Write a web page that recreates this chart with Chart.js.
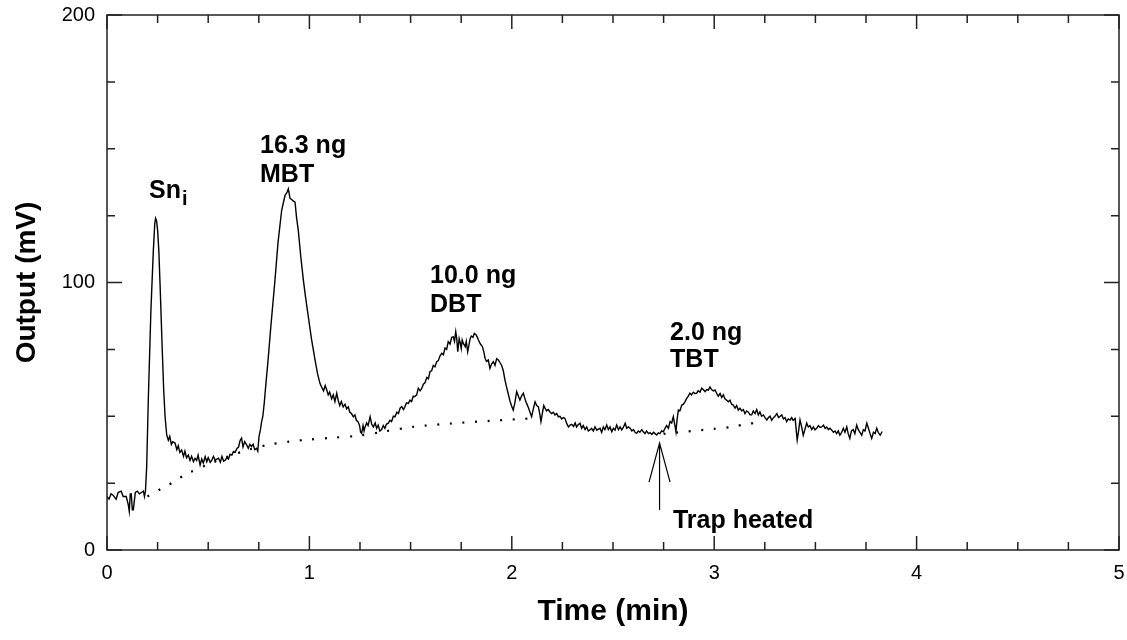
<!DOCTYPE html>
<html>
<head>
<meta charset="utf-8">
<script src="https://cdn.jsdelivr.net/npm/chart.js@4.4.1/dist/chart.umd.min.js"></script>
<style>
  html, body { margin: 0; padding: 0; background: #fff; }
  #wrap { width: 1127px; height: 640px; }
</style>
</head>
<body>
<div id="wrap"><canvas id="chrom" width="1127" height="640"></canvas></div>
<script>
// detector trace, [time (min), output (mV)]
const trace = [
  [0.00,20],[0.01,19],[0.02,21],[0.03,20.5],[0.045,19],[0.055,21.5],[0.07,22],[0.08,20],[0.095,20],[0.105,17],
  [0.11,14.5],[0.115,21],[0.12,21],[0.125,15],[0.13,15],[0.14,21.5],[0.15,22],[0.16,21],[0.17,21.5],[0.18,22],
  [0.185,20],[0.19,22],[0.196,31],[0.204,56],[0.217,89.7],[0.229,112],[0.236,122],[0.24,124],[0.245,123],[0.25,119.6],
  [0.256,112],[0.262,99.7],[0.273,74.8],[0.28,60],[0.287,49.8],[0.295,43],[0.303,41],[0.31,42.5],[0.318,39.5],[0.325,40.5],
  [0.336,40],[0.345,37.5],[0.352,39],[0.36,36.5],[0.369,37.4],[0.378,35],[0.385,37],[0.393,34.5],[0.402,35.5],[0.41,33.5],
  [0.418,35],[0.427,33],[0.435,34.3],[0.443,33.5],[0.45,35.5],[0.46,31.8],[0.468,34],[0.476,32.5],[0.485,34.9],[0.493,33],
  [0.50,34.5],[0.51,32.8],[0.518,33.6],[0.526,35],[0.535,33.5],[0.543,34],[0.551,34.3],[0.56,32.8],[0.568,35],[0.576,33.2],
  [0.584,33.6],[0.592,34.5],[0.60,34],[0.608,35.8],[0.617,35.5],[0.625,36.8],[0.633,36.5],[0.642,38],[0.65,38.5],[0.658,41],
  [0.665,41.8],[0.672,38.5],[0.68,40.5],[0.69,39.3],[0.698,38],[0.706,39.5],[0.714,38.7],[0.722,39.5],[0.73,37.5],[0.739,38],
  [0.745,37],[0.751,42.4],[0.758,45],[0.764,48],[0.77,50],[0.777,55],[0.785,62],[0.797,72],[0.81,84],[0.83,101],
  [0.845,115],[0.863,127],[0.872,130],[0.88,132.7],[0.888,133.5],[0.896,135],[0.904,131.5],[0.912,131],[0.92,130.5],[0.929,130],
  [0.937,124],[0.945,119.6],[0.957,110],[0.97,101],[0.982,94],[0.995,87],[1.01,79],[1.028,71],[1.04,66],[1.052,62.3],
  [1.06,61],[1.07,59.5],[1.078,61.5],[1.085,60],[1.093,58],[1.10,59],[1.11,56.5],[1.118,58],[1.126,55.5],[1.135,58.6],
  [1.142,56],[1.15,54],[1.158,55.5],[1.167,53.5],[1.176,54.5],[1.184,52.8],[1.192,53.5],[1.20,51.5],[1.208,51],[1.217,49.8],
  [1.225,50.5],[1.232,48.5],[1.24,48],[1.248,46.5],[1.253,44],[1.258,43.6],[1.265,46.5],[1.27,44.5],[1.275,46],[1.283,47.5],
  [1.29,46.5],[1.30,49.8],[1.308,47],[1.316,46],[1.325,47.5],[1.332,45.5],[1.34,46.7],[1.348,44.5],[1.357,45],[1.365,46.5],
  [1.373,45.5],[1.38,47],[1.39,47.4],[1.398,48.5],[1.406,48],[1.415,50],[1.423,49.8],[1.432,51.5],[1.44,51],[1.448,53],
  [1.456,53.6],[1.465,52.5],[1.472,53.6],[1.48,55],[1.489,54.8],[1.497,56],[1.505,55.5],[1.513,57.5],[1.52,57.3],[1.53,58],
  [1.538,60.5],[1.547,59.5],[1.555,60.4],[1.563,62],[1.571,62.5],[1.58,64.5],[1.588,64],[1.596,66.7],[1.604,67],[1.612,69],
  [1.62,68.5],[1.629,70.4],[1.637,70.8],[1.645,72.5],[1.654,73.5],[1.662,73],[1.67,75.5],[1.678,75],[1.686,77.9],[1.695,77],
  [1.703,79.5],[1.711,79.7],[1.717,78],[1.723,81.6],[1.728,79],[1.733,74.1],[1.74,79],[1.745,77.5],[1.75,75.3],[1.755,78.5],
  [1.76,77.3],[1.77,76],[1.775,78],[1.782,74.1],[1.788,76.5],[1.794,79],[1.80,80],[1.808,79.5],[1.815,81],[1.823,80.5],
  [1.83,79.5],[1.835,78.5],[1.845,77],[1.855,76],[1.862,74],[1.868,71.7],[1.875,70.5],[1.884,71],[1.892,67.9],[1.90,69.5],
  [1.909,70.4],[1.917,69],[1.925,71.5],[1.934,71],[1.942,70],[1.95,69],[1.958,67],[1.966,63.6],[1.974,61],[1.982,58.5],
  [1.99,56],[1.998,54],[2.007,52.3],[2.015,55],[2.024,59.2],[2.03,58],[2.04,56],[2.048,57.5],[2.057,58.6],[2.065,56.5],
  [2.072,55],[2.08,53.6],[2.09,51.5],[2.098,49.8],[2.107,53],[2.115,55.4],[2.123,54],[2.131,53.6],[2.138,51],[2.144,48],
  [2.152,51.5],[2.158,54],[2.164,53],[2.172,52],[2.18,52.5],[2.19,51.5],[2.197,51],[2.205,51.5],[2.213,50.5],[2.222,51],
  [2.23,49.8],[2.238,50],[2.246,49],[2.255,49.5],[2.263,49.2],[2.27,47.5],[2.28,46],[2.288,46.7],[2.296,47],[2.305,46.2],
  [2.313,47.5],[2.32,46],[2.328,46.8],[2.337,47.4],[2.345,45.5],[2.353,46.5],[2.362,45],[2.37,46],[2.378,44.5],[2.386,44.9],
  [2.394,45.5],[2.403,44.5],[2.411,46],[2.42,44.8],[2.428,45.2],[2.436,45.5],[2.444,44],[2.452,46],[2.46,45],[2.469,46.7],
  [2.477,45],[2.485,46],[2.494,44.2],[2.502,45.5],[2.51,44.8],[2.518,46.7],[2.527,45],[2.535,46],[2.543,44.9],[2.551,45.8],
  [2.56,47.4],[2.568,45.5],[2.576,46],[2.585,45.5],[2.593,44.5],[2.601,45],[2.609,44],[2.617,43.6],[2.625,44.5],[2.633,44],
  [2.642,45],[2.65,44.2],[2.658,43.5],[2.666,44.5],[2.675,43.5],[2.683,43.9],[2.692,43.2],[2.70,44],[2.708,43.5],[2.716,43],
  [2.724,43.8],[2.732,43.5],[2.74,44.5],[2.749,44.2],[2.757,45.5],[2.765,46.5],[2.774,45.5],[2.782,48],[2.79,47.5],[2.798,49.8],
  [2.805,47],[2.811,44.2],[2.817,49],[2.823,52.3],[2.83,52],[2.84,54.2],[2.848,54.5],[2.856,55.5],[2.864,56.7],[2.872,57.5],
  [2.88,58.6],[2.888,58],[2.897,59],[2.905,58.5],[2.913,58.6],[2.921,59.5],[2.93,59],[2.938,60.5],[2.946,60],[2.955,59.2],
  [2.963,60],[2.971,59.8],[2.979,61],[2.987,60],[2.996,59.5],[3.004,59.8],[3.012,58.6],[3.02,57.5],[3.029,58.5],[3.037,57],
  [3.045,58],[3.053,56.5],[3.062,56],[3.07,55.4],[3.078,56],[3.086,54.5],[3.094,54.2],[3.103,53],[3.111,54],[3.119,52.3],
  [3.127,53],[3.136,52],[3.144,52.5],[3.152,51],[3.16,52],[3.169,51.5],[3.177,50.5],[3.185,50.5],[3.193,52],[3.202,51],
  [3.21,52.5],[3.218,50.5],[3.226,51.6],[3.234,50],[3.243,50.5],[3.251,49.5],[3.26,48.6],[3.268,49.5],[3.276,50],[3.284,48.5],
  [3.29,49.2],[3.30,50],[3.31,51],[3.318,49.5],[3.326,50],[3.334,50.5],[3.342,49],[3.35,49.5],[3.358,48],[3.366,49],
  [3.375,48.6],[3.383,49.5],[3.39,48.5],[3.40,49.2],[3.405,45],[3.41,41.1],[3.416,44],[3.424,48.6],[3.432,46],[3.44,42.9],
  [3.448,45],[3.457,47.4],[3.465,46],[3.473,46.5],[3.482,45],[3.49,46],[3.498,44.9],[3.506,45.5],[3.515,46.5],[3.523,45.8],
  [3.531,46],[3.54,46.7],[3.548,45.5],[3.556,46],[3.564,45],[3.572,45.5],[3.58,44.9],[3.589,44],[3.597,44.5],[3.605,43.5],
  [3.613,44.5],[3.621,42.9],[3.63,44],[3.638,45.5],[3.646,44],[3.655,46],[3.662,43.5],[3.67,41.7],[3.678,44.5],[3.687,45],
  [3.695,43.5],[3.704,46.7],[3.712,45],[3.72,44],[3.729,42.9],[3.737,45],[3.745,44.5],[3.754,47.4],[3.762,45.5],[3.77,43.5],
  [3.778,41.7],[3.787,44],[3.795,43.5],[3.803,45.5],[3.81,44],[3.82,42.9],[3.83,44.3]
];

// dotted baselines drawn under the peaks
const baselineA = [
  [0.20,20],[0.27,23],[0.33,25.5],[0.39,28.3],[0.50,32],[0.60,35],[0.70,37.5],[0.80,39.4],[0.90,40.5],
  [1.00,41.3],[1.12,42],[1.24,42.7],[1.37,44.3],[1.51,46],[1.70,47.3],[1.90,48.3],[2.12,49.3]
];
const baselineB = [[2.75,43.4],[3.00,45.3],[3.09,46],[3.15,47],[3.22,47.6]];

// tick marks
const xTickValues = [0,0.25,0.5,0.75,1,1.25,1.5,1.75,2,2.25,2.5,2.75,3,3.25,3.5,3.75,4,4.25,4.5,4.75,5];
const xMajor = [0,1,2,3,4,5];
const yTickValues = [0,25,50,75,100,125,150,175,200];
const yMajor = [0,100,200];

// peak labels: [text, time, mV at baseline of text]
const peakLabels = [
  ['16.3 ng', 0.756, 148.4], ['MBT', 0.756, 137.6],
  ['10.0 ng', 1.596, 99.8],  ['DBT', 1.596, 89.0],
  ['2.0 ng', 2.782, 78.5],   ['TBT', 2.782, 68.4],
  ['Trap heated', 2.796, 8.2]
];
const snLabel = { text: 'Sn', sub: 'i', t: 0.2075, mv: 131.6 };
// "trap heated" arrow: time, tip, head base, tail (mV), head half-width (min)
const trapArrow = { t: 2.73, tip: 40, head: 25.4, tail: 15, half: 0.052 };

const FONT = '"Liberation Sans", Arial, Helvetica, sans-serif';

const decorations = {
  id: 'decorations',
  afterDatasetsDraw(chart) {
    const { ctx, chartArea: a, scales: { x, y } } = chart;
    ctx.save();
    ctx.strokeStyle = '#222';
    ctx.lineWidth = 1.5;
    ctx.strokeRect(a.left, a.top, a.right - a.left, a.bottom - a.top);

    ctx.beginPath();
    xTickValues.forEach(v => {
      const px = x.getPixelForValue(v);
      const len = xMajor.includes(v) ? 14 : 8;
      ctx.moveTo(px, a.bottom); ctx.lineTo(px, a.bottom - len);
      ctx.moveTo(px, a.top); ctx.lineTo(px, a.top + len);
    });
    yTickValues.forEach(v => {
      const py = y.getPixelForValue(v);
      const len = yMajor.includes(v) ? 15 : 8;
      ctx.moveTo(a.left, py); ctx.lineTo(a.left + len, py);
      ctx.moveTo(a.right, py); ctx.lineTo(a.right - len, py);
    });
    ctx.stroke();

    // arrow
    ctx.strokeStyle = '#000';
    ctx.lineWidth = 1.2;
    const ax = x.getPixelForValue(trapArrow.t);
    ctx.beginPath();
    ctx.moveTo(ax, y.getPixelForValue(trapArrow.tip));
    ctx.lineTo(ax, y.getPixelForValue(trapArrow.tail));
    ctx.moveTo(x.getPixelForValue(trapArrow.t - trapArrow.half), y.getPixelForValue(trapArrow.head));
    ctx.lineTo(ax, y.getPixelForValue(trapArrow.tip));
    ctx.lineTo(x.getPixelForValue(trapArrow.t + trapArrow.half), y.getPixelForValue(trapArrow.head));
    ctx.stroke();

    // labels
    ctx.fillStyle = '#000';
    ctx.textAlign = 'left';
    ctx.textBaseline = 'alphabetic';
    ctx.font = 'bold 25px ' + FONT;
    peakLabels.forEach(([txt, t, mv]) => {
      ctx.fillText(txt, x.getPixelForValue(t), y.getPixelForValue(mv));
    });
    const sx = x.getPixelForValue(snLabel.t), sy = y.getPixelForValue(snLabel.mv);
    ctx.fillText(snLabel.text, sx, sy);
    const w = ctx.measureText(snLabel.text).width;
    ctx.font = 'bold 20px ' + FONT;
    ctx.fillText(snLabel.sub, sx + w + 1, sy + 7);
    ctx.restore();
  }
};

new Chart(document.getElementById('chrom'), {
  type: 'line',
  data: {
    datasets: [
      {
        data: trace.map(([t, v]) => ({ x: t, y: v })),
        borderColor: '#000',
        borderWidth: 1.4,
        pointRadius: 0,
        tension: 0
      },
      {
        data: baselineA.map(([t, v]) => ({ x: t, y: v })),
        borderColor: '#000',
        borderWidth: 2.2,
        borderDash: [2, 10.6],
        pointRadius: 0,
        tension: 0.3
      },
      {
        data: baselineB.map(([t, v]) => ({ x: t, y: v })),
        borderColor: '#000',
        borderWidth: 2.2,
        borderDash: [2, 10.6],
        pointRadius: 0,
        tension: 0.3
      }
    ]
  },
  options: {
    responsive: false,
    animation: false,
    layout: { padding: { top: 15, right: 8, left: 0, bottom: 0 } },
    plugins: { legend: { display: false }, tooltip: { enabled: false } },
    scales: {
      x: {
        type: 'linear',
        min: 0, max: 5,
        grid: { display: false, drawTicks: false },
        border: { display: false },
        ticks: { stepSize: 1, padding: 11, color: '#000', font: { family: FONT, size: 20 } },
        title: {
          display: true, text: 'Time (min)', color: '#000',
          font: { family: FONT, size: 30, weight: 'bold' },
          padding: { top: 0, bottom: 10 }
        },
        afterFit(scale) {
          scale.height = 90;
          scale.paddingLeft = 0;
          scale.paddingRight = 0;
        }
      },
      y: {
        min: 0, max: 200,
        grid: { display: false, drawTicks: false },
        border: { display: false },
        ticks: { stepSize: 100, padding: 12, color: '#000', font: { family: FONT, size: 20 } },
        title: {
          display: true, text: 'Output (mV)', color: '#000',
          font: { family: FONT, size: 28, weight: 'bold' },
          padding: { top: 10, bottom: 0 }
        },
        afterFit(scale) {
          scale.width = 107;
          scale.paddingTop = 0;
          scale.paddingBottom = 0;
        }
      }
    }
  },
  plugins: [decorations]
});
</script>
</body>
</html>
